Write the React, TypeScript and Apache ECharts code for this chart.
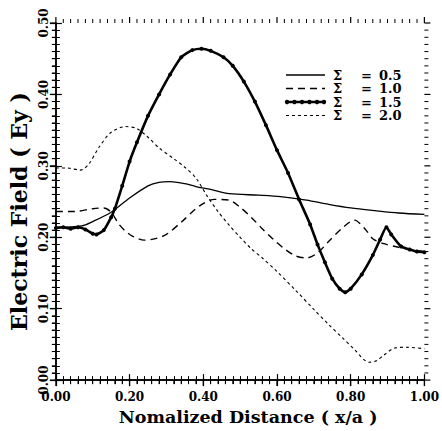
import React, { useEffect, useRef } from "react";
import * as echarts from "echarts";

// Series labels (legend)
const seriesSymbol = "Σ";
const seriesValues = ["0.5", "1.0", "1.5", "2.0"];

// Axis ranges / tick steps
const xRange = [0, 1];
const yRange = [0, 0.5];
const xMajor = 0.2;
const yMajor = 0.1;
const minorSplit = 10;

// Σ = 0.5 (solid)
const s05X = [0, 0.07, 0.1, 0.15, 0.2, 0.25, 0.28, 0.31, 0.35, 0.38, 0.42, 0.47, 0.55, 0.61, 0.68, 0.74, 0.8, 0.87, 0.93, 1.0];
const s05Y = [0.214, 0.216, 0.222, 0.235, 0.255, 0.272, 0.277, 0.278, 0.275, 0.271, 0.267, 0.261, 0.259, 0.257, 0.252, 0.246, 0.241, 0.237, 0.234, 0.232];

// Σ = 1.0 (long dash)
const s10X = [0, 0.05, 0.1, 0.13, 0.15, 0.17, 0.19, 0.21, 0.24, 0.27, 0.3, 0.34, 0.39, 0.43, 0.47, 0.5, 0.53, 0.56, 0.59, 0.62, 0.65, 0.68, 0.71, 0.74, 0.78, 0.81, 0.84, 0.86, 0.89, 0.93, 0.96, 1.0];
const s10Y = [0.236, 0.236, 0.24, 0.241, 0.235, 0.219, 0.208, 0.201, 0.196, 0.198, 0.204, 0.221, 0.244, 0.253, 0.252, 0.242, 0.228, 0.212, 0.197, 0.184, 0.174, 0.171, 0.178, 0.194, 0.214, 0.224, 0.211, 0.198, 0.191, 0.186, 0.183, 0.18];

// Σ = 1.5 (thick with dots)
const s15X = [0, 0.02, 0.04, 0.06, 0.08, 0.1, 0.11, 0.13, 0.15, 0.16, 0.18, 0.2, 0.22, 0.25, 0.28, 0.31, 0.34, 0.37, 0.395, 0.42, 0.455, 0.48, 0.51, 0.54, 0.57, 0.6, 0.63, 0.66, 0.69, 0.71, 0.73, 0.75, 0.77, 0.785, 0.8, 0.83, 0.86, 0.88, 0.897, 0.91, 0.937, 0.96, 0.98, 1.0];
const s15Y = [0.213, 0.214, 0.212, 0.214, 0.211, 0.205, 0.204, 0.21, 0.228, 0.24, 0.272, 0.306, 0.333, 0.37, 0.4, 0.428, 0.452, 0.462, 0.464, 0.461, 0.452, 0.44, 0.418, 0.39, 0.357, 0.322, 0.29, 0.253, 0.218, 0.19, 0.165, 0.142, 0.128, 0.123, 0.128, 0.148, 0.175, 0.197, 0.214, 0.204, 0.187, 0.183, 0.18, 0.179];

// Σ = 2.0 (short dash)
const s20X = [0, 0.03, 0.067, 0.09, 0.117, 0.15, 0.19, 0.22, 0.25, 0.28, 0.32, 0.35, 0.38, 0.41, 0.44, 0.47, 0.5, 0.53, 0.56, 0.6, 0.65, 0.7, 0.74, 0.78, 0.81, 0.85, 0.87, 0.89, 0.92, 0.95, 1.0];
const s20Y = [0.297, 0.297, 0.294, 0.303, 0.326, 0.347, 0.355, 0.352, 0.34, 0.325, 0.31, 0.298, 0.283, 0.258, 0.236, 0.217, 0.2, 0.184, 0.171, 0.152, 0.126, 0.099, 0.078, 0.058, 0.043, 0.025, 0.027, 0.035, 0.045, 0.046, 0.044];

const xTitle = "Nomalized Distance ( x/a )";
const yTitle = "Electric Field ( Ey )";

const zip = (xs: number[], ys: number[]) => xs.map((x, i) => [x, ys[i]]);

const FONT = "DejaVu Serif";

type Dash = "solid" | number[];
const seriesStyles: { width: number; dash: Dash; dots: boolean }[] = [
  { width: 1.3, dash: "solid", dots: false },
  { width: 1.4, dash: [7, 5], dots: false },
  { width: 2.6, dash: "solid", dots: true },
  { width: 1.1, dash: [3, 3], dots: false },
];

const MAJOR_LEN = 6;
const MINOR_LEN = 4;

export default function App() {
  const ref = useRef<HTMLDivElement>(null);
  useEffect(() => {
    if (!ref.current) return;
    const chart = echarts.init(ref.current, null, { renderer: "svg" });
    const axisLine = { show: true, lineStyle: { color: "#000", width: 1.5 } };
    const labelStyle = { color: "#000", fontFamily: FONT, fontWeight: "bold" as const, fontSize: 12 };
    const tick = { show: true, inside: false, length: MAJOR_LEN, lineStyle: { color: "#000", width: 1.2 } };
    const minor = { show: true, splitNumber: minorSplit, length: MINOR_LEN, lineStyle: { color: "#000", width: 1 } };

    // legend drawn as graphic elements
    const rowsY = [75, 88.5, 102, 115.5];
    const legendEls: any[] = [];
    rowsY.forEach((y, i) => {
      const st = seriesStyles[i];
      legendEls.push({
        type: "line",
        shape: { x1: 286, y1: y, x2: 325, y2: y },
        style: { stroke: "#000", lineWidth: st.width, lineDash: st.dash === "solid" ? null : st.dash },
      });
      if (st.dots) {
        [287, 294.5, 302, 309.5, 317, 324].forEach((cx) =>
          legendEls.push({ type: "circle", shape: { cx, cy: y, r: 2.2 }, style: { fill: "#000" } })
        );
      }
      const ts = { fill: "#000", fontFamily: FONT, fontWeight: "bold", fontSize: 13, verticalAlign: "middle" };
      legendEls.push({ type: "text", x: 333, y, style: { ...ts, text: seriesSymbol } });
      legendEls.push({ type: "text", x: 361, y, style: { ...ts, text: "=" } });
      legendEls.push({ type: "text", x: 379, y, style: { ...ts, text: seriesValues[i] } });
    });

    const mk = (i: number, xs: number[], ys: number[], smooth: number) => {
      const st = seriesStyles[i];
      return {
        name: seriesSymbol + " = " + seriesValues[i],
        type: "line",
        data: zip(xs, ys),
        smooth,
        symbol: st.dots ? "circle" : "none",
        symbolSize: 4,
        showSymbol: st.dots,
        lineStyle: { color: "#000", width: st.width, type: st.dash },
        itemStyle: { color: "#000" },
      };
    };

    // tick marks on all four sides, positioned through the axes' scales
    const tickSeries = {
      type: "custom",
      silent: true,
      clip: false,
      data: [[0, 0]],
      z: 5,
      renderItem: (_params: any, api: any) => {
        const children: any[] = [];
        const [xl, yb] = api.coord([xRange[0], yRange[0]]);
        const [xr, yt] = api.coord([xRange[1], yRange[1]]);
        const nx = Math.round((xRange[1] - xRange[0]) / xMajor) * minorSplit;
        for (let k = 0; k <= nx; k++) {
          const v = xRange[0] + (k * xMajor) / minorSplit;
          const px = api.coord([v, yRange[0]])[0];
          const len = k % minorSplit === 0 ? MAJOR_LEN : MINOR_LEN;
          const w = k % minorSplit === 0 ? 1.2 : 1;
          children.push({ type: "line", shape: { x1: px, y1: yb, x2: px, y2: yb + len }, style: { stroke: "#000", lineWidth: w } });
          children.push({ type: "line", shape: { x1: px, y1: yt, x2: px, y2: yt - len }, style: { stroke: "#000", lineWidth: w } });
        }
        const ny = Math.round((yRange[1] - yRange[0]) / yMajor) * minorSplit;
        for (let k = 0; k <= ny; k++) {
          const v = yRange[0] + (k * yMajor) / minorSplit;
          const py = api.coord([xRange[0], v])[1];
          const len = k % minorSplit === 0 ? MAJOR_LEN : MINOR_LEN;
          const w = k % minorSplit === 0 ? 1.2 : 1;
          children.push({ type: "line", shape: { x1: xl, y1: py, x2: xl - len, y2: py }, style: { stroke: "#000", lineWidth: w } });
          children.push({ type: "line", shape: { x1: xr, y1: py, x2: xr + len, y2: py }, style: { stroke: "#000", lineWidth: w } });
        }
        return { type: "group", children };
      },
    };

    chart.setOption({
      animation: false,
      backgroundColor: "#fff",
      grid: { left: 53, right: 15, top: 23, bottom: 43 },
      graphic: legendEls,
      xAxis: [
        {
          type: "value",
          min: xRange[0],
          max: xRange[1],
          interval: xMajor,
          position: "bottom",
          axisLine,
          axisTick: tick,
          minorTick: minor,
          splitLine: { show: false },
          minorSplitLine: { show: false },
          axisLabel: { ...labelStyle, margin: 11, formatter: (v: number) => v.toFixed(2) },
          name: xTitle,
          nameLocation: "middle",
          nameGap: 19,
          nameTextStyle: { color: "#000", fontFamily: FONT, fontWeight: "bold", fontSize: 17.5, padding: [0, 0, 0, 16] },
        },
        {
          type: "value",
          min: xRange[0],
          max: xRange[1],
          interval: xMajor,
          position: "top",
          axisLine,
          axisTick: tick,
          minorTick: minor,
          splitLine: { show: false },
          axisLabel: { show: false },
        },
      ],
      yAxis: [
        {
          type: "value",
          min: yRange[0],
          max: yRange[1],
          interval: yMajor,
          position: "left",
          axisLine,
          axisTick: tick,
          minorTick: minor,
          splitLine: { show: false },
          minorSplitLine: { show: false },
          axisLabel: { ...labelStyle, rotate: 90, margin: 6, formatter: (v: number) => v.toFixed(2) },
          name: yTitle,
          nameLocation: "middle",
          nameGap: 9,
          nameTextStyle: { color: "#000", fontFamily: FONT, fontWeight: "bold", fontSize: 22, padding: [0, 20, 0, 0] },
        },
        {
          type: "value",
          min: yRange[0],
          max: yRange[1],
          interval: yMajor,
          position: "right",
          axisLine,
          axisTick: tick,
          minorTick: minor,
          splitLine: { show: false },
          axisLabel: { show: false },
        },
      ],
      series: [
        mk(0, s05X, s05Y, 0.3),
        mk(1, s10X, s10Y, 0.3),
        mk(2, s15X, s15Y, 0.2),
        mk(3, s20X, s20Y, 0.3),
        tickSeries,
      ],
    });
    return () => chart.dispose();
  }, []);
  return (
    <div
      ref={ref}
      style={{ position: "fixed", left: 0, top: 0, width: 442, height: 431, background: "#fff" }}
    />
  );
}
